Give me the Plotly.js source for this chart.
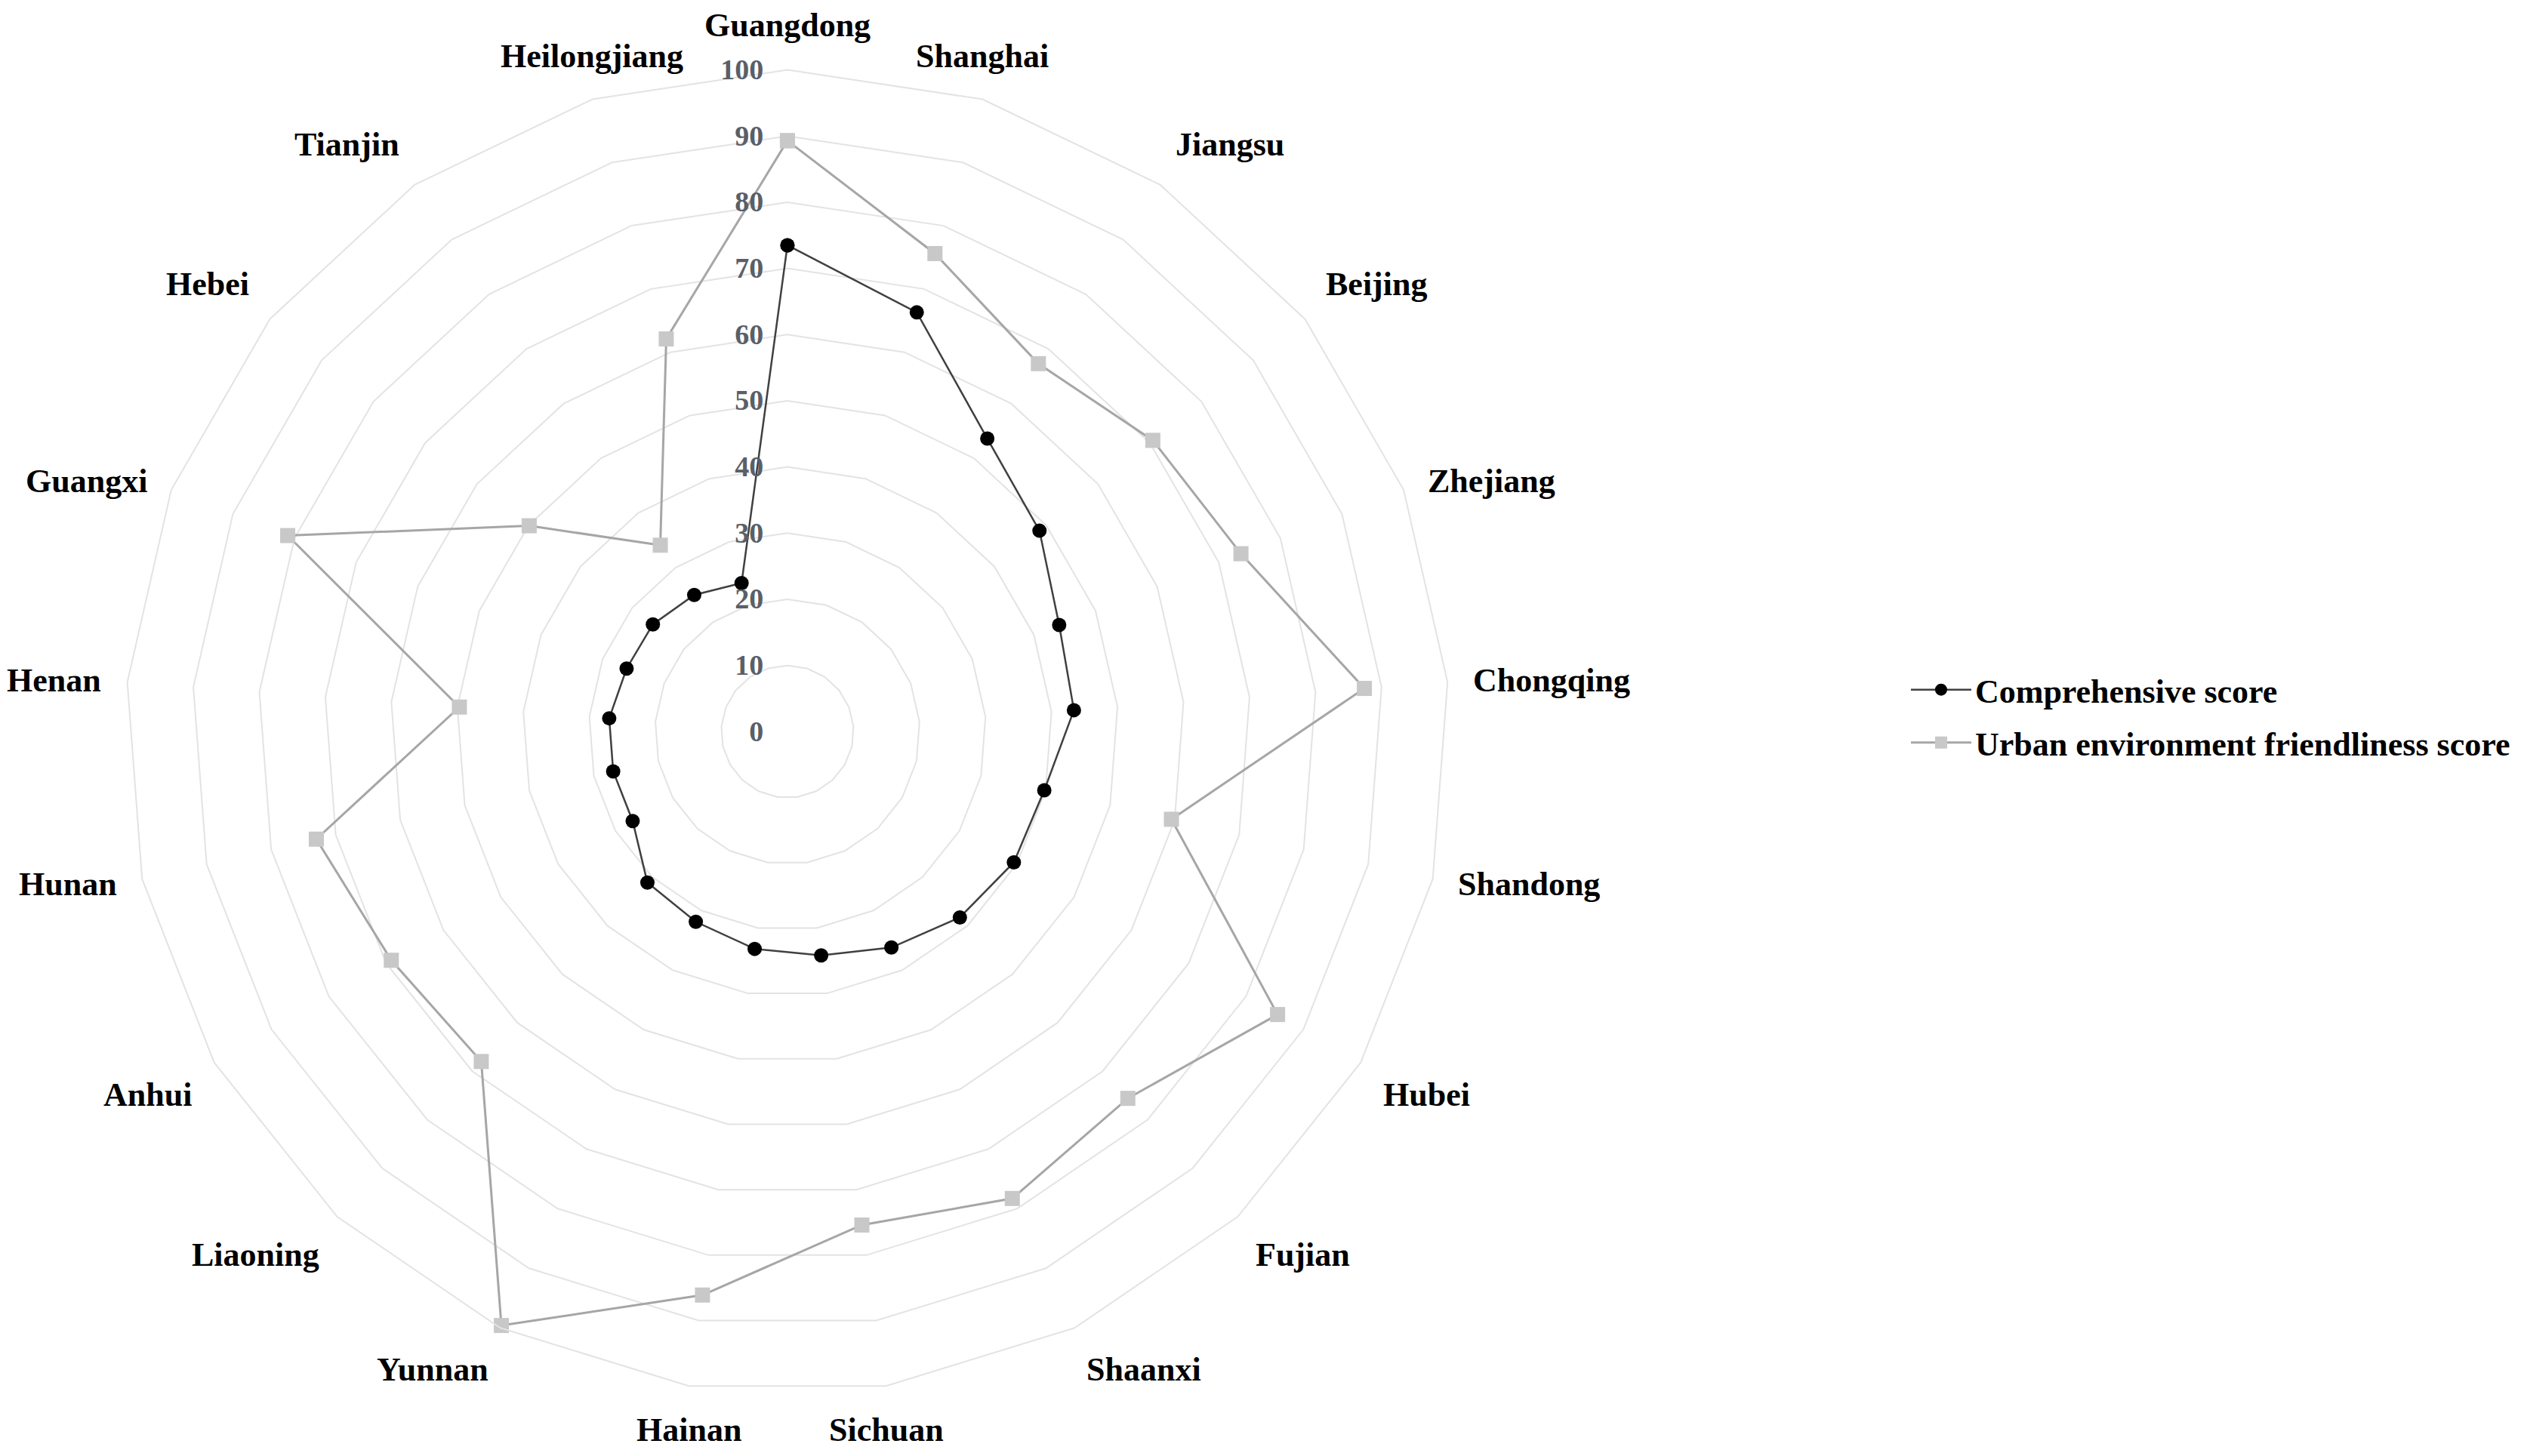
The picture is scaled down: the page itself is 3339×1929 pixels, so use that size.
<!DOCTYPE html>
<html>
<head>
<meta charset="utf-8">
<script src="https://cdn.plot.ly/plotly-3.0.1.min.js"></script>
<style>
  html, body { margin: 0; padding: 0; background: #fff; }
  #plot { width: 3339px; height: 1929px; }
</style>
</head>
<body>
<div id="plot"></div>
<script>
const provinces = [
  "Guangdong", "Shanghai", "Jiangsu", "Beijing", "Zhejiang", "Chongqing",
  "Shandong", "Hubei", "Fujian", "Shaanxi", "Sichuan", "Hainan", "Yunnan",
  "Liaoning", "Anhui", "Hunan", "Henan", "Guangxi", "Hebei", "Tianjin",
  "Heilongjiang"
];

const comprehensiveScore = [
  73.5, 66.3, 53.6, 48.7, 44.1, 43.4, 39.8, 39.5, 38.3, 36.2, 34.2,
  33.2, 31.9, 31.1, 27.0, 27.0, 27.0, 26.1, 26.0, 25.0, 23.5
];

const urbanScore = [
  89.3, 75.6, 67.3, 70.6, 73.6, 87.4, 59.5, 85.5, 75.6, 78.3, 75.4,
  86.1, 99.6, 68.0, 69.1, 73.0, 49.7, 81.1, 49.9, 34.1, 62.1
];

const radialTicks = [0, 10, 20, 30, 40, 50, 60, 70, 80, 90, 100];

const W = 3339, H = 1929;
const domX = [0.0497, 0.575], domY = [0.043, 0.952];

// close the loops
const closeLoop = (arr) => arr.concat([arr[0]]);

const serif = "Liberation Serif, Times New Roman, serif";

// category labels placed the way Excel does it, just outside the outer ring
const cx = (domX[0] + domX[1]) / 2 * W;
const cy = (1 - (domY[0] + domY[1]) / 2) * H;
const R = (domX[1] - domX[0]) * W / 2;
const labelAnnotations = provinces.map((name, i) => {
  const a = (i * 2 * Math.PI) / provinces.length;
  const s = Math.sin(a), c = Math.cos(a);
  let px = cx + R * s, py = cy - R * c - 32 * c;
  let xanchor = "center", yanchor = "middle";
  if (Math.abs(s) >= 0.35) {
    xanchor = s > 0 ? "left" : "right";
    px += 32 * s;
  }
  if (Math.abs(c) >= 0.45 || Math.abs(s) < 0.35) {
    yanchor = c > 0 ? "bottom" : "top";
  }
  return {
    text: name,
    xref: "paper",
    yref: "paper",
    x: px / W,
    y: 1 - py / H,
    xanchor: xanchor,
    yanchor: yanchor,
    showarrow: false,
    font: { family: serif, size: 44, color: "#000000", weight: "bold" },
  };
});

const data = [
  {
    type: "scatterpolar",
    r: closeLoop(urbanScore),
    theta: closeLoop(provinces),
    mode: "lines+markers",
    name: "Urban environment friendliness score",
    line: { color: "#a6a6a6", width: 3 },
    marker: { symbol: "square", size: 20, color: "#c8c8c8" },
    legendrank: 2,
    legendgroup: "b",
  },
  {
    type: "scatterpolar",
    r: closeLoop(comprehensiveScore),
    theta: closeLoop(provinces),
    mode: "lines+markers",
    name: "Comprehensive score",
    line: { color: "#404040", width: 2.5 },
    marker: { symbol: "circle", size: 19, color: "#000000" },
    legendrank: 1,
    legendgroup: "a",
  },
];

const layout = {
  width: W,
  height: H,
  margin: { l: 0, r: 0, t: 0, b: 0 },
  paper_bgcolor: "#ffffff",
  showlegend: true,
  legend: {
    x: 0.7565,
    y: 0.508,
    xanchor: "left",
    yanchor: "middle",
    itemwidth: 80,
    font: { family: serif, size: 44, color: "#000000", weight: "bold" },
    tracegroupgap: 10,
  },
  annotations: labelAnnotations,
  polar: {
    domain: { x: domX, y: domY },
    gridshape: "linear",
    bgcolor: "#ffffff",
    radialaxis: {
      range: [0, 100],
      tickvals: radialTicks,
      angle: 90,
      tickangle: 90,
      side: "counterclockwise",
      showline: false,
      showgrid: true,
      gridcolor: "#e3e3e3",
      gridwidth: 2,
      ticks: "outside",
      ticklen: 18,
      tickcolor: "rgba(0,0,0,0)",
      tickfont: { family: serif, size: 38, color: "#5a5f68", weight: "bold" },
    },
    angularaxis: {
      type: "category",
      categoryarray: provinces,
      rotation: 90,
      direction: "clockwise",
      showgrid: false,
      showline: true,
      linecolor: "#e3e3e3",
      linewidth: 2,
      ticks: "",
      showticklabels: false,
    },
  },
};

Plotly.newPlot("plot", data, layout, { displayModeBar: false });
</script>
</body>
</html>
